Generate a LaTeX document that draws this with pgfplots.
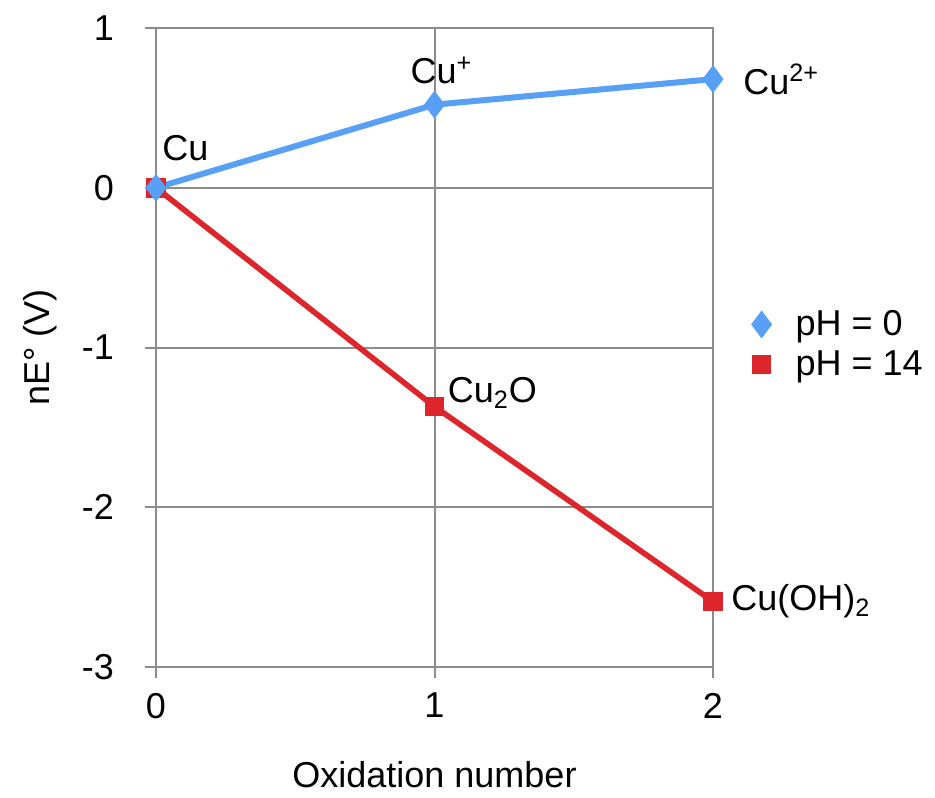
\documentclass[border=0pt]{standalone}
\usepackage{fontspec}
\setmainfont{Liberation Sans}
\usepackage{pgfplots}
\pgfplotsset{compat=1.18}
\definecolor{phzero}{RGB}{88,160,245}
\definecolor{phfourteen}{RGB}{220,38,44}
\definecolor{gridgray}{RGB}{140,140,140}
\newcommand{\bigfont}{\fontsize{18}{21}\selectfont}
\begin{document}
\begin{tikzpicture}
\begin{axis}[
  scale only axis, width=278.5pt, height=319.5pt,
  xmin=0, xmax=2, ymin=-3, ymax=1,
  xtick={0,1,2}, ytick={-3,-2,-1,0,1},
  tick align=outside, xtick pos=bottom, ytick pos=left,
  major tick length=5.5pt,
  tick style={gridgray, line width=1pt},
  axis line style={gridgray, line width=1pt},
  grid=major, major grid style={gridgray, line width=1pt},
  /pgf/number format/assume math mode=true,
  ticklabel style={font=\bigfont},
  xticklabel style={yshift=-4pt},
  yticklabel style={xshift=-12pt},
  xlabel={Oxidation number}, ylabel={nE° (V)},
  label style={font=\bigfont},
  x label style={at={(axis description cs:0.5,0)}, anchor=center, yshift=-54pt},
  y label style={at={(axis description cs:-0.208,0.5)}, anchor=center},
  clip=false,
  legend image code/.code={\draw[#1] plot[only marks] coordinates {(0pt,0pt)}; \path[draw=none,fill=none] (0pt,0pt) (15pt,0pt);},
  legend style={at={(rel axis cs:1.074,0.505)}, anchor=west, draw=none, fill=none,
    font=\bigfont, row sep=2pt, inner sep=0pt},
  legend cell align=left,
  reverse legend,
]
\addplot[phfourteen, line width=2.8pt, mark=square*, mark size=3.5pt]
  coordinates {(0,0) (1,-1.37) (2,-2.59)};
\addlegendentry{pH = 14}
\addplot[phzero, line width=3pt, mark=diamond*, mark size=4.5pt]
  coordinates {(0,0) (1,0.52) (2,0.68)};
\addlegendentry{pH = 0}
\node[font=\bigfont, anchor=base west, inner sep=0pt] at (axis cs:0,0) [xshift=3pt, yshift=13.5pt] {Cu};
\node[font=\bigfont, anchor=base, inner sep=0pt] at (axis cs:1,0.52) [xshift=3.5pt, yshift=10.5pt] {Cu\textsuperscript{+}};
\node[font=\bigfont, anchor=west, inner sep=0pt] at (axis cs:2,0.68) [xshift=15pt] {Cu\textsuperscript{2+}};
\node[font=\bigfont, anchor=south west, inner sep=0pt] at (axis cs:1,-1.37) [xshift=6.5pt, yshift=-1pt] {Cu\textsubscript{2}O};
\node[font=\bigfont, anchor=west, inner sep=0pt] at (axis cs:2,-2.59) [xshift=9pt] {Cu(OH)\textsubscript{2}};
\end{axis}
\pgfresetboundingbox
\path[use as bounding box] (-78pt,-65pt) rectangle (389.5pt,333.5pt);
\end{tikzpicture}
\end{document}
